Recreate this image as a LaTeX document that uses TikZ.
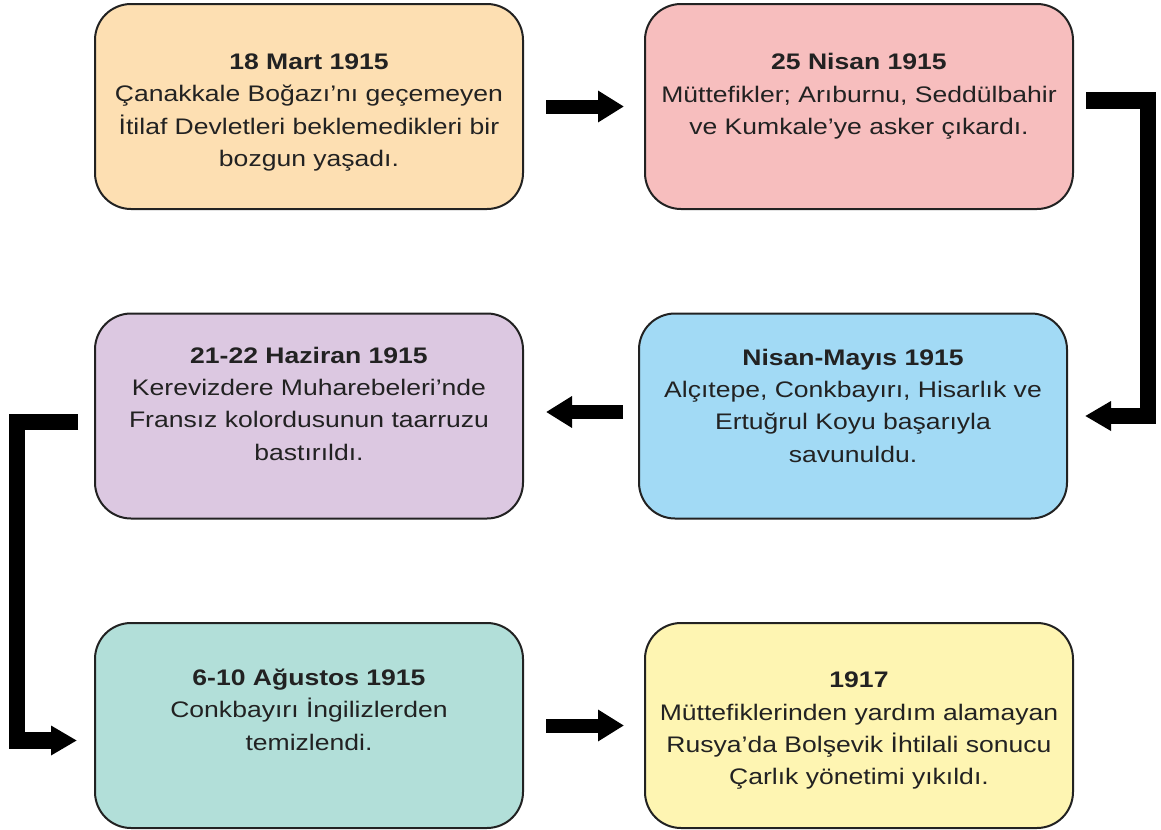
\documentclass[tikz,border=0pt]{standalone}
\usepackage{fontspec}
\setmainfont{Liberation Sans}[FakeStretch=1.18]
\usepackage{tikz}
\usepackage{xcolor}
\usetikzlibrary{shapes.geometric, arrows.meta, positioning}
\definecolor{peach}{RGB}{253,223,178}
\definecolor{rose}{RGB}{247,190,190}
\definecolor{lilac}{RGB}{220,200,225}
\definecolor{sky}{RGB}{162,218,245}
\definecolor{mint}{RGB}{178,223,217}
\definecolor{lemon}{RGB}{254,245,178}
\definecolor{ink}{RGB}{34,34,34}
\tikzstyle{event}=[draw=ink,line width=0.05cm,rounded corners=0.9cm,rectangle,minimum width=10.7cm,minimum height=5.125cm,align=center,text=ink]
\tikzstyle{bigarrow}=[line width=0.35cm,-{Triangle[length=6.5mm,width=7.5mm]}]
\tikzstyle{bracket}=[line width=0.42cm,-{Triangle[length=6.5mm,width=7mm]}]

\begin{document}
\begin{tikzpicture}[auto,node distance=3cm,font=\fontsize{16}{23}\selectfont]
    \useasboundingbox (0,0) rectangle (29.025,-20.75);
    \node[event, fill=peach, text height=3cm, text depth=0cm] (e1) at (7.725,-2.6625) {\textbf{18 Mart 1915}\\Çanakkale Boğazı’nı geçemeyen\\İtilaf Devletleri beklemedikleri bir\\bozgun yaşadı.};
    \node[event, fill=rose, text height=1.77cm, text depth=0.37cm, right=of e1] (e2) {\textbf{25 Nisan 1915}\\Müttefikler; Arıburnu, Seddülbahir\\ve Kumkale’ye asker çıkardı.};
    \node[event, fill=lilac, text height=2.57cm, text depth=0.37cm, below=2.5625cm of e1] (e3) {\textbf{21-22 Haziran 1915}\\Kerevizdere Muharebeleri’nde\\Fransız kolordusunun taarruzu\\bastırıldı.};
    \node[event, fill=sky, text height=2.62cm, text depth=0.32cm, below=2.5625cm of e2, xshift=-0.15cm] (e4) {\textbf{Nisan-Mayıs 1915}\\Alçıtepe, Conkbayırı, Hisarlık ve\\Ertuğrul Koyu başarıyla\\savunuldu.};
    \node[event, fill=mint, text height=1.69cm, text depth=0.45cm, below=2.5625cm of e3] (e5) {\textbf{6-10 Ağustos 1915}\\Conkbayırı İngilizlerden\\temizlendi.};
    \node[event, fill=lemon, text height=2.96cm, text depth=0cm, right=of e5] (e6) {\textbf{1917}\\Müttefiklerinden yardım alamayan\\Rusya’da Bolşevik İhtilali sonucu\\Çarlık yönetimi yıkıldı.};

    \draw[bigarrow] ([xshift=5.5mm]e1.east) -- ([xshift=-5mm]e2.west);
    \draw[bracket] ([xshift=3mm,yshift=1.5mm]e2.east) -- ++(1.55,0) |- ([xshift=4.25mm]e4.east);
    \draw[bigarrow] ([xshift=-3.75mm,yshift=1mm]e4.west) -- ([xshift=5.5mm,yshift=1mm]e3.east);
    \draw[bracket] ([xshift=-4mm,yshift=-1.5mm]e3.west) -- ++(-1.525,0) |- ([xshift=-4.25mm,yshift=-3.75mm]e5.west);
    \draw[bigarrow] ([xshift=5.5mm]e5.east) -- ([xshift=-5mm]e6.west);
\end{tikzpicture}
\end{document}
